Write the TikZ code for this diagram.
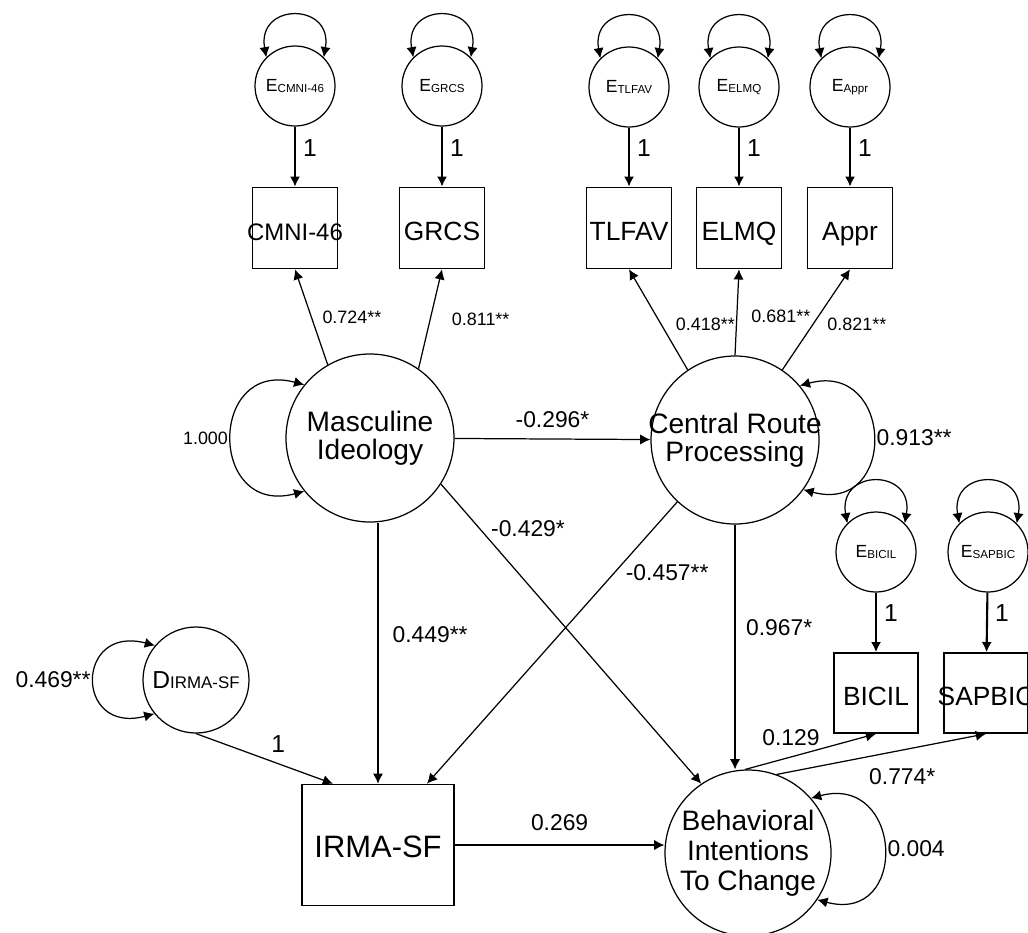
\documentclass[tikz,border=0pt]{standalone}
\usepackage{fontspec}
\setmainfont{Liberation Sans}
\usetikzlibrary{arrows.meta,positioning}

% error / disturbance labels: big letter, smaller caps index
\newcommand{\errlab}[2]{{\fontsize{5}{6}\selectfont #1}\raisebox{-0.3pt}{\fontsize{3.3}{4}\selectfont #2}}
\newcommand{\distlab}[2]{{\fontsize{7}{8}\selectfont #1}{\fontsize{4.8}{5}\selectfont #2}}

\begin{document}
\begin{tikzpicture}[
    latent/.style={draw, circle, line width=0.35pt, minimum size=1.68cm, inner sep=-3mm, align=center, font=\fontsize{8}{8}\selectfont},
    errnode/.style={draw, circle, line width=0.35pt, minimum size=0.8cm, inner sep=0pt},
    obsbox/.style={draw, rectangle, line width=0.45pt, minimum width=0.85cm, minimum height=0.81cm, inner xsep=-1.5mm, text height=0.72em, text depth=0pt, font=\fontsize{7.5}{8}\selectfont},
    coef/.style={font=\fontsize{6.5}{7}\selectfont, inner sep=1pt},
    smallcoef/.style={font=\fontsize{5.1}{6}\selectfont, inner sep=1pt},
    one/.style={font=\fontsize{7}{8}\selectfont, inner sep=1pt},
    reg/.style={line width=0.35pt, -{Latex[length=2.9pt,width=2.9pt]}},
    fixed/.style={line width=0.6pt, -{Latex[length=2.9pt,width=2.9pt]}},
    var/.style={line width=0.35pt, {Latex[length=2.9pt,width=2.9pt]}-{Latex[length=2.9pt,width=2.9pt]}}
  ]
    \useasboundingbox (0,0) rectangle (10.28,-9.32);

    % indicators and their errors
    \node[errnode] (ecmni) at (2.95,-0.86) {\errlab{E}{CMNI-46}};
    \node[errnode] (egrcs) at (4.42,-0.86) {\errlab{E}{GRCS}};
    \node[errnode] (etlfav) at (6.29,-0.87) {\errlab{E}{TLFAV}};
    \node[errnode] (eelmq) at (7.39,-0.87) {\errlab{E}{ELMQ}};
    \node[errnode] (eappr) at (8.50,-0.87) {\errlab{E}{Appr}};
    \node[obsbox, font=\fontsize{6.8}{7}\selectfont] (cmni) at (2.95,-2.28) {CMNI-46};
    \node[obsbox] (grcs) at (4.42,-2.28) {GRCS};
    \node[obsbox] (tlfav) at (6.29,-2.28) {TLFAV};
    \node[obsbox] (elmq) at (7.39,-2.28) {ELMQ};
    \node[obsbox] (appr) at (8.50,-2.28) {Appr};

    \node[errnode] (ebicil) at (8.76,-5.52) {\errlab{E}{BICIL}};
    \node[errnode] (esapbic) at (9.88,-5.52) {\errlab{E}{SAPBIC}};
    \node[obsbox, minimum width=0.84cm, minimum height=0.8cm] (bicil) at (8.76,-6.93) {BICIL};
    \node[obsbox, minimum width=0.84cm, minimum height=0.8cm] (sapbic) at (9.86,-6.93) {SAPBIC};

    % latent variables
    \node[latent] (mi) at (3.70,-4.38) {Masculine\\Ideology};
    \node[latent] (crp) at (7.35,-4.40) {Central Route\\Processing};
    \node[latent, minimum size=1.66cm, font=\fontsize{8}{8.5}\selectfont] (bic) at (7.48,-8.53) {Behavioral\\Intentions\\To Change};
    \node[obsbox, minimum width=1.52cm, minimum height=1.21cm, font=\fontsize{8.8}{9}\selectfont] (irma) at (3.78,-8.45) {IRMA-SF};
    \node[errnode, minimum size=1.06cm] (dirma) at (1.96,-6.80) {\distlab{D}{IRMA-SF}};

    % error terms
    \foreach \e/\v in {ecmni/cmni, egrcs/grcs, etlfav/tlfav, eelmq/elmq, eappr/appr, ebicil/bicil, esapbic/sapbic}{
      \draw[fixed] (\e) -- node[one, right=1pt, pos=0.35] {1} (\v);
      \draw[var] (\e.135) to[out=100, in=80, looseness=2.5] (\e.45);
    }

    % variances
    \draw[var] (mi.141) to[out=165, in=195, looseness=2.4] node[smallcoef, left] {1.000} (mi.219);
    \draw[var] (crp.40) to[out=15, in=-15, looseness=2.4] node[coef, right] {0.913**} (crp.-36);
    \draw[var] (bic.41) to[out=15, in=-15, looseness=2.4] node[coef, right] {0.004} (bic.-34);
    \draw[var] (dirma.140) to[out=165, in=195, looseness=3.1] node[coef, left] {0.469**} (dirma.219);

    % loadings
    \draw[reg] (mi.120) -- node[smallcoef, right=2pt] {0.724**} (cmni.south);
    \draw[reg] (mi.55) -- node[smallcoef, right=5pt] {0.811**} (grcs.south);
    \draw[reg] (crp.124) -- node[smallcoef, right=3pt, pos=0.45] {0.418**} (tlfav.south);
    \draw[reg] (crp.north) -- node[smallcoef, right=3pt, pos=0.45] {0.681**} (elmq.south);
    \draw[reg] (crp.56) -- node[smallcoef, right=3pt, pos=0.45] {0.821**} (appr.south);
    \draw[reg] (bic.92) -- node[coef, above=2pt, pos=0.35] {0.129} (bicil.south);
    \draw[reg] (bic.70) -- node[coef, below=4pt, pos=0.6] {0.774*} (sapbic.south);

    % structural paths
    \draw[reg] (mi) -- node[coef, above=2pt] {-0.296*} (crp);
    \draw[reg] (mi.-33) -- node[coef, right=2pt, pos=0.15] {-0.429*} (bic.124);
    \draw[reg] (crp.227) -- node[coef, right=2pt, pos=0.25] {-0.457**} ([xshift=4.9mm]irma.north);
    \draw[reg] (mi.south -| irma.north) -- node[coef, right=3pt, pos=0.43] {0.449**} (irma.north);
    \draw[reg] (crp.south) -- node[coef, right=2pt, pos=0.42] {0.967*} (crp.south |- bic.north);
    \draw[reg] (dirma.south) -- node[one, above=2pt, pos=0.6] {1} ([xshift=-4.5mm]irma.north);
    \draw[reg] (irma.east) -- node[coef, above=3pt] {0.269} (irma.east -| bic.west);
  \end{tikzpicture}
\end{document}
